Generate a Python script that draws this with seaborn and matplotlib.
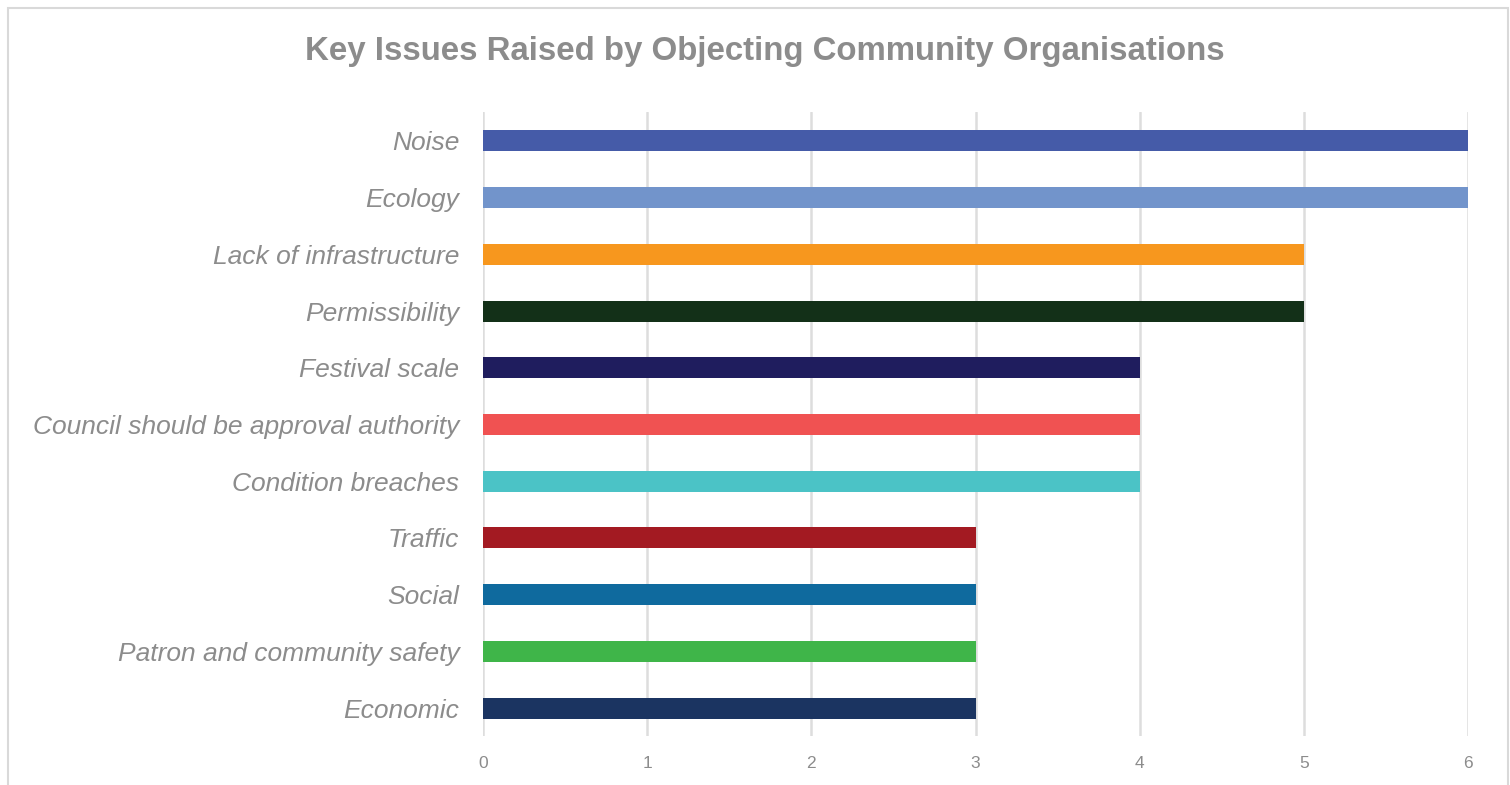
import matplotlib
matplotlib.use("Agg")
import matplotlib.pyplot as plt
import seaborn as sns
import pandas as pd
from matplotlib.patches import Rectangle

categories = ["Noise", "Ecology", "Lack of infrastructure", "Permissibility",
              "Festival scale", "Council should be approval authority",
              "Condition breaches", "Traffic", "Social",
              "Patron and community safety", "Economic"]
values = [6, 6, 5, 5, 4, 4, 4, 3, 3, 3, 3]
colors = ["#455BA8", "#7294CB", "#F7971E", "#133018", "#1F1D5E", "#F05252",
          "#4BC3C6", "#A31A22", "#0F6A9E", "#3FB549", "#1B3461"]
xticks = [0, 1, 2, 3, 4, 5, 6]
title = "Key Issues Raised by Objecting Community Organisations"

sns.set_theme(style="white")
plt.rcParams['font.family'] = ['Liberation Sans', 'DejaVu Sans']

df = pd.DataFrame({"issue": categories, "count": values})

fig = plt.figure(figsize=(15.1, 7.85), dpi=100)
ax = fig.add_axes([0.3199, 0.0618, 0.9722 - 0.3199, 0.8567 - 0.0618])

sns.barplot(data=df, y="issue", x="count", hue="issue", palette=colors,
            order=categories, hue_order=categories, orient="h",
            width=0.37, legend=False, ax=ax, saturation=1, linewidth=0)

gray = "#8C8C8C"
ax.set_xlim(0, 6)
ax.set_ylim(10.5, -0.5)
ax.set_xticks(xticks)
ax.set_xticklabels([str(t) for t in xticks], color=gray, fontsize=12.5)
ax.set_yticks(range(len(categories)))
ax.set_yticklabels(categories, color=gray, fontsize=19, style="italic")
ax.tick_params(axis="y", length=0, pad=17)
ax.tick_params(axis="x", length=0, pad=14)
ax.set_xlabel("")
ax.set_ylabel("")
for s in ax.spines.values():
    s.set_visible(False)
ax.set_axisbelow(True)
for t in xticks:
    ax.axvline(t, color="#DDDDDD", linewidth=1.8, zorder=0)

fig.text(0.5063, 0.934, title, ha="center", va="center", fontsize=23.8,
         fontweight="bold", color=gray)

fig.add_artist(Rectangle((8 / 1510, -0.01), (1508 - 8) / 1510, 1 - 8 / 785 + 0.01,
                         transform=fig.transFigure, fill=False,
                         edgecolor="#D9D9D9", linewidth=1.5))

fig.savefig("out.png", dpi=100)
